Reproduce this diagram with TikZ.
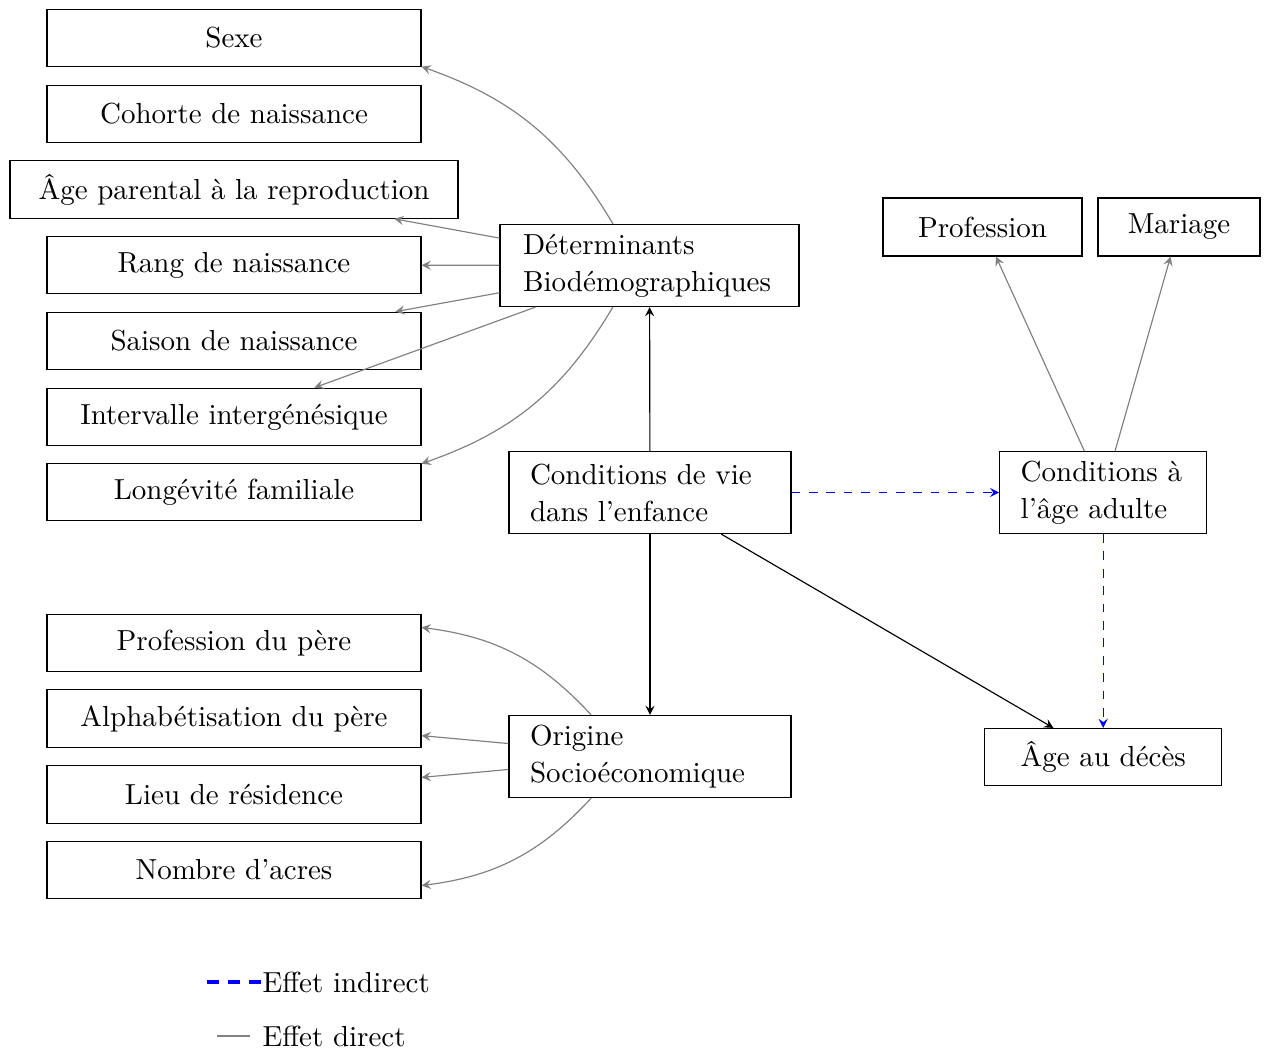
\documentclass[tikz,border=0pt]{standalone}
\usetikzlibrary{arrows}
\begin{document}
\begin{tikzpicture}[x=0.34483pt,y=-0.34483pt,>=stealth,
  box/.style={draw, minimum height=19.83pt, inner sep=0pt},
  lbox/.style={box, minimum width=128.97pt},
  mbox/.style={draw, align=left, inner xsep=7.24pt, inner ysep=0pt, minimum height=28.28pt, execute at begin node={\setlength{\baselineskip}{12.8pt}}},
  garrow/.style={->, draw=gray},
  barrow/.style={->, draw=black},
  blarrow/.style={->, draw=blue, dashed}]
\useasboundingbox (0,0) rectangle (1269,1049);
% left column
\node[lbox] (sexe) at (234,38) {Sexe};
\node[lbox] (coh) at (234,114) {Cohorte de naissance};
\node[box, minimum width=154.5pt] (agep) at (234,189.5) {Âge parental à la reproduction};
\node[lbox] (rang) at (234,265) {Rang de naissance};
\node[lbox] (saison) at (234,341) {Saison de naissance};
\node[lbox] (interv) at (234,417) {Intervalle intergénésique};
\node[lbox] (longev) at (234,492) {Longévité familiale};
\node[lbox] (pp) at (234,643) {Profession du père};
\node[lbox] (alph) at (234,718.5) {Alphabétisation du père};
\node[lbox] (lieu) at (234,794.5) {Lieu de résidence};
\node[lbox] (acres) at (234,870) {Nombre d’acres};
% middle
\node[mbox, inner xsep=7.93pt, text width=87.2pt] (det) at (649.5,265.5) {Déterminants\\Biodémographiques};
\node[mbox, text width=82.76pt] (cv) at (650,492.5) {Conditions de vie\\dans l’enfance};
\node[mbox, text width=82.76pt] (orig) at (650,756.5) {Origine\\Socioéconomique};
% right
\node[mbox, text width=56.9pt] (ca) at (1103.2,492.5) {Conditions à\\l’âge adulte};
\node[box, minimum width=68.6pt, minimum height=20pt] (prof) at (982.5,227) {Profession};
\node[box, minimum width=55.86pt, minimum height=20pt] (mar) at (1179,227) {Mariage};
\node[box, minimum width=81.7pt, minimum height=19.66pt] (deces) at (1103.2,757) {Âge au décès};
% connectors
\draw[garrow] (det) to[bend right=20] (sexe);
\draw[garrow] (det) -- (agep);
\draw[garrow] (det) -- (rang);
\draw[garrow] (det) -- (saison);
\draw[garrow] (det) -- (interv);
\draw[garrow] (det) to[bend left=20] (longev);
\draw[barrow] (cv) -- (det);
\draw[barrow] (cv) -- (orig);
\draw[barrow] (cv) -- (deces);
\draw[blarrow] (cv) -- (ca);
\draw[blarrow] (ca) -- (deces);
\draw[garrow] (ca) -- (prof);
\draw[garrow] (ca) -- (mar);
\draw[garrow] (orig) to[bend right=20] (pp);
\draw[garrow] (orig) -- (alph);
\draw[garrow] (orig) -- (lieu);
\draw[garrow] (orig) to[bend left=20] (acres);
% legend
\coordinate (li1) at (207,982);
\coordinate (li2) at (262,982);
\coordinate (ld1) at (217,1036);
\coordinate (ld2) at (250,1036);
\draw[blue, line width=1.1pt, dash pattern=on 4.2pt off 3pt] (li1) -- (li2);
\draw[gray, line width=0.5pt] (ld1) -- (ld2);
\node[anchor=west, inner sep=0pt] (lit) at (li2) {Effet indirect};
\node[anchor=west, inner sep=0pt] (ldt) at (262,1036) {Effet direct};
\end{tikzpicture}
\end{document}
